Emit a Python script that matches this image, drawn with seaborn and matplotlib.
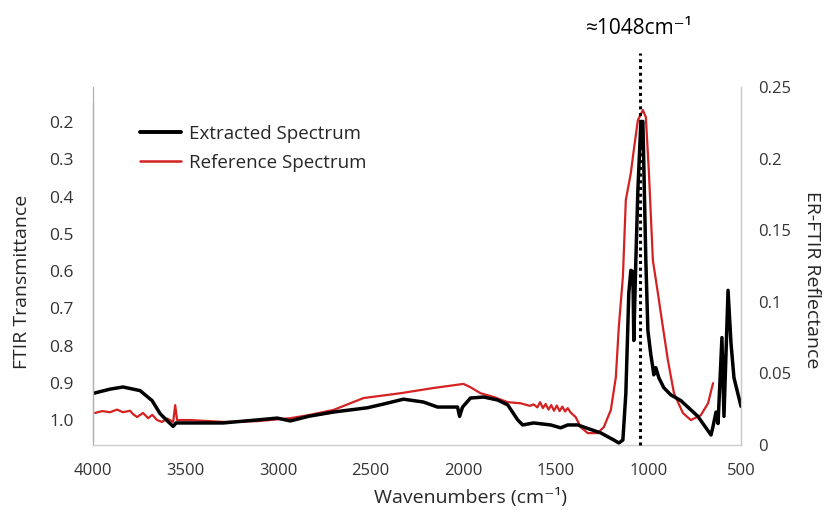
import numpy as np
import pandas as pd
import seaborn as sns
import matplotlib
matplotlib.use("Agg")
import matplotlib.pyplot as plt
from matplotlib.lines import Line2D

# Extracted spectrum (ER-FTIR reflectance, right axis)
ext_wn = [4000, 3908, 3838, 3746, 3681, 3638, 3600, 3567, 3551, 3529, 3297, 3113,
          3005, 2934, 2837, 2702, 2518, 2431, 2323, 2215, 2139, 2031, 2020, 2004,
          1961, 1890, 1814, 1760, 1706, 1679, 1620, 1528, 1474, 1436, 1382, 1257,
          1187, 1160, 1138, 1122, 1106, 1095, 1084, 1079, 1068, 1057, 1041, 1030,
          1014, 1003, 987, 976, 971, 960, 944, 917, 879, 825, 733, 662, 651, 635,
          624, 603, 592, 570, 554, 538, 500]
ext_r = [0.036, 0.039, 0.0405, 0.038, 0.031, 0.022, 0.017, 0.013, 0.0154, 0.0154,
         0.0154, 0.0175, 0.0188, 0.0168, 0.020, 0.023, 0.026, 0.0286, 0.032, 0.030,
         0.0265, 0.0265, 0.020, 0.0265, 0.0328, 0.0335, 0.0314, 0.028, 0.0175,
         0.014, 0.0154, 0.014, 0.012, 0.014, 0.014, 0.0084, 0.0035, 0.0014, 0.0035,
         0.036, 0.106, 0.122, 0.121, 0.073, 0.129, 0.178, 0.225, 0.226, 0.129,
         0.080, 0.063, 0.054, 0.049, 0.054, 0.047, 0.040, 0.035, 0.031, 0.020,
         0.007, 0.013, 0.023, 0.015, 0.075, 0.020, 0.108, 0.071, 0.047, 0.027]

# Reference spectrum (FTIR transmittance, left axis)
ref_wn = [3989, 3950, 3908, 3870, 3838, 3800, 3784, 3762, 3730, 3702, 3680, 3654,
          3627, 3600, 3567, 3556, 3546, 3475, 3297, 3113, 2934, 2837, 2702, 2539,
          2339, 2161, 1999, 1961, 1907, 1836, 1760, 1690, 1640, 1620, 1600, 1585,
          1570, 1555, 1540, 1525, 1510, 1495, 1480, 1465, 1450, 1436, 1420, 1393,
          1366, 1328, 1274, 1241, 1203, 1176, 1160, 1138, 1122, 1095, 1079, 1057,
          1030, 1014, 998, 976, 949, 922, 895, 862, 814, 771, 717, 678, 651]
ref_t = [0.981, 0.976, 0.979, 0.972, 0.979, 0.975, 0.984, 0.992, 0.981, 0.995,
         0.986, 1.000, 1.005, 0.996, 1.005, 0.960, 1.000, 1.000, 1.005, 1.003,
         0.995, 0.987, 0.973, 0.941, 0.928, 0.914, 0.903, 0.912, 0.928, 0.938,
         0.952, 0.955, 0.962, 0.958, 0.966, 0.952, 0.968, 0.957, 0.972, 0.960,
         0.975, 0.961, 0.976, 0.964, 0.977, 0.968, 0.980, 0.992, 1.019, 1.035,
         1.035, 1.019, 0.973, 0.885, 0.750, 0.616, 0.409, 0.337, 0.275, 0.195,
         0.168, 0.187, 0.329, 0.571, 0.659, 0.750, 0.839, 0.928, 0.981, 1.000,
         0.987, 0.955, 0.901]

left_ticks = [0.2, 0.3, 0.4, 0.5, 0.6, 0.7, 0.8, 0.9, 1.0]
right_ticks = [0, 0.05, 0.1, 0.15, 0.2, 0.25]
right_labels = ["0", "0.05", "0.1", "0.15", "0.2", "0.25"]
x_ticks = [4000, 3500, 3000, 2500, 2000, 1500, 1000, 500]
peak_wn = 1048

ext = pd.DataFrame({"wn": ext_wn, "r": ext_r})
ref = pd.DataFrame({"wn": ref_wn, "t": ref_t})

sns.set_style("white")
plt.rcParams["font.family"] = ["Open Sans", "DejaVu Sans"]
txt = "#333333"

fig = plt.figure(figsize=(8.27, 5.14), dpi=100)
ax = fig.add_axes([93 / 827, 69 / 514, 648 / 827, 358 / 514])
ax2 = ax.twinx()

sns.lineplot(data=ref, x="wn", y="t", ax=ax, color="#d42121", lw=1.6,
             sort=False, estimator=None)
sns.lineplot(data=ext, x="wn", y="r", ax=ax2, color="black", lw=2.5,
             sort=False, estimator=None)

ax.set_xlim(4000, 500)
ax.set_ylim(1.067, 0.106)
ax2.set_ylim(0, 0.25)

ax.set_xticks(x_ticks)
ax.set_xticklabels([str(v) for v in x_ticks])
ax.set_yticks(left_ticks)
ax.set_yticklabels([f"{v:.1f}" for v in left_ticks])
ax2.set_yticks(right_ticks)
ax2.set_yticklabels(right_labels)

ax.tick_params(axis="x", length=3, color="#cccccc", pad=10, labelsize=12, labelcolor=txt)
ax.tick_params(axis="y", length=0, pad=14, labelsize=12.5, labelcolor=txt)
ax2.tick_params(axis="y", length=0, pad=12, labelsize=12, labelcolor=txt)

for a in (ax, ax2):
    a.spines["top"].set_visible(False)
    a.spines["left"].set_color("#b0b0b0")
    a.spines["bottom"].set_color("#d0d0d0")
    a.spines["right"].set_color("#c8c8c8")
    for s in a.spines.values():
        s.set_linewidth(0.9)
ax.spines["left"].set_bounds(1.056, 0.149)

ax.set_xlabel("")
ax.set_ylabel("")
ax2.set_ylabel("")
fig.text(470 / 827, 1 - 497 / 514, "Wavenumbers (cm\u207b\u00b9)", fontsize=14,
         ha="center", va="center")
fig.text(22 / 827, 1 - 282 / 514, "FTIR Transmittance", fontsize=14,
         rotation=90, ha="center", va="center")
fig.text(812 / 827, 1 - 280 / 514, "ER-FTIR Reflectance", fontsize=14,
         rotation=270, ha="center", va="center")

# dotted marker at the main peak
ax2.plot([peak_wn, peak_wn], [0, 0.274], color="black", ls=(0, (1, 1.2)), lw=2.2,
         clip_on=False, zorder=5)
ax2.text(peak_wn, 0.291, "\u22481048cm\u207b\u00b9", ha="center", va="center",
         fontsize=15, color="black")

handles = [Line2D([], [], color="black", lw=2.8),
           Line2D([], [], color="#d42121", lw=1.8)]
leg = ax2.legend(handles, ["Extracted Spectrum", "Reference Spectrum"],
                 loc="upper left", bbox_to_anchor=(0.072, 0.895), frameon=False,
                 fontsize=13.5, handlelength=2.2, handletextpad=0.45,
                 labelspacing=0.6, borderaxespad=0, borderpad=0)

fig.savefig("out.png", dpi=100)
